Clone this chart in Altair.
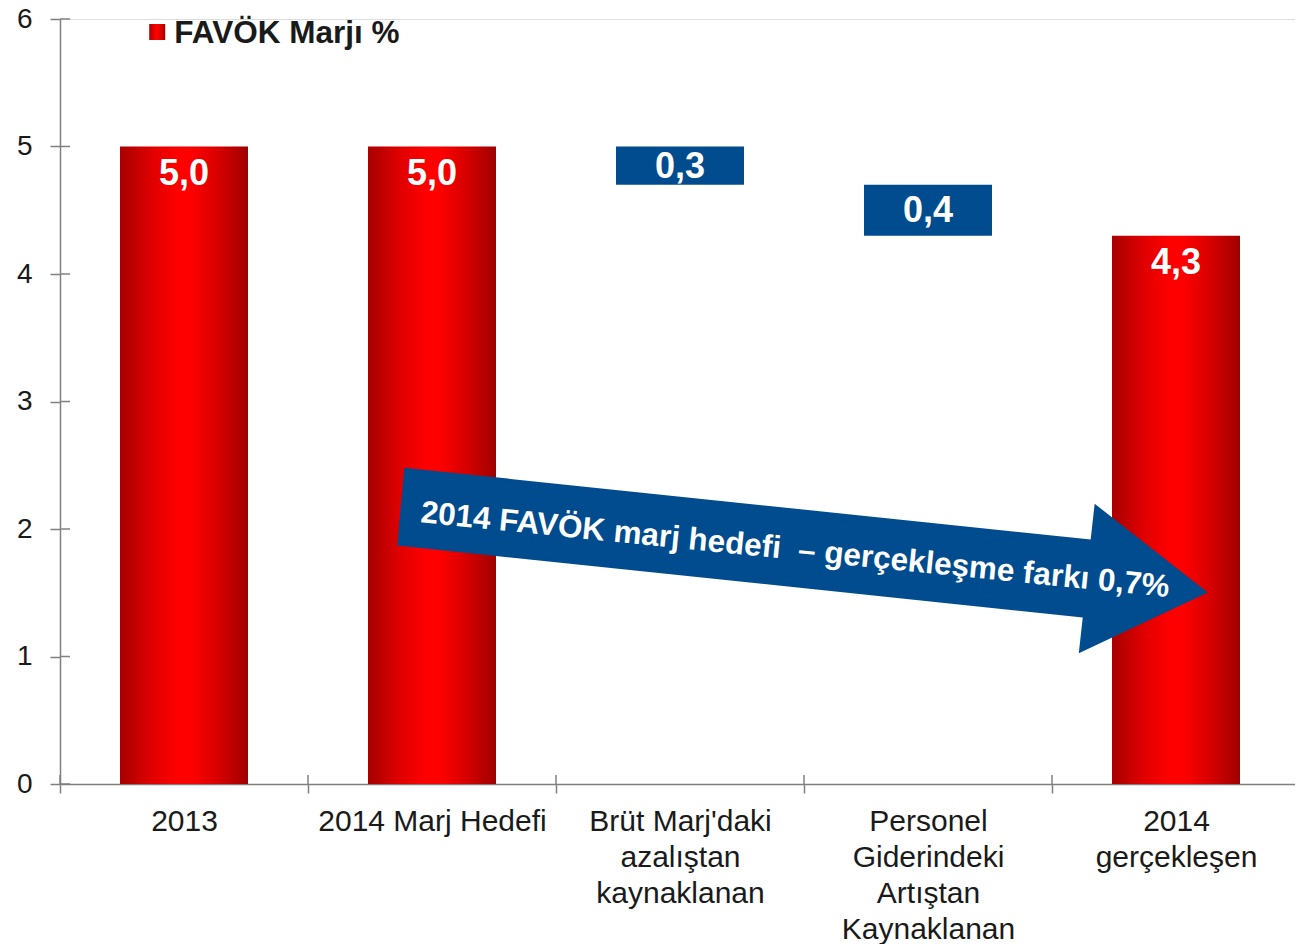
import altair as alt
import pandas as pd

# ---- data ----
categories = ["2013", "2014 Marj Hedefi", "Brüt Marj'daki\nazalıştan\nkaynaklanan",
              "Personel\nGiderindeki\nArtıştan\nKaynaklanan", "2014\ngerçekleşen"]
bar_start = [0.0, 0.0, 4.7, 4.3, 0.0]
bar_end = [5.0, 5.0, 5.0, 4.7, 4.3]
bar_labels = ["5,0", "5,0", "0,3", "0,4", "4,3"]
bar_kind = ["total", "total", "change", "change", "total"]

legend_label = ["FAVÖK Marjı %"]
legend_x = [0.392]
legend_y = [5.898]

# arrow outline (x in category units from the left edge, y in % units)
arrow_x = [1.388, 4.156, 4.172, 4.628, 4.108, 4.124, 1.360]
arrow_y = [2.480, 1.917, 2.198, 1.502, 1.025, 1.306, 1.870]
arrow_text = ["2014 FAVÖK marj hedefi \u00a0– gerçekleşme farkı 0,7%"]
arrow_text_x = [2.964]
arrow_text_y = [1.83]

y_ticks = [0, 1, 2, 3, 4, 5, 6]
x_bounds = [0, 1, 2, 3, 4]

df = pd.DataFrame({"cat": categories, "start": bar_start, "end": bar_end,
                   "label": bar_labels, "kind": bar_kind})
arrow_df = pd.DataFrame({"i": list(range(len(arrow_x))), "x": arrow_x, "y": arrow_y})
atext_df = pd.DataFrame({"t": arrow_text, "x": arrow_text_x, "y": arrow_text_y})
leg_df = pd.DataFrame({"t": legend_label, "x": legend_x, "y": legend_y})
ytick_df = pd.DataFrame({"v": y_ticks})
xb_df = pd.DataFrame({"v": x_bounds})

FONT = "Liberation Sans"
BLUE = "#004c8e"
GRAY = "#808080"
W, H = 1235, 765
XR = 1240  # full range of the 5 category bands (a few px beyond the right edge)

red_grad = alt.LinearGradient(
    gradient="linear", x1=0, x2=1, y1=0, y2=0,
    stops=[alt.GradientStop(color="#a80000", offset=0),
           alt.GradientStop(color="#e00000", offset=0.25),
           alt.GradientStop(color="#ff0000", offset=0.45),
           alt.GradientStop(color="#ff0000", offset=0.55),
           alt.GradientStop(color="#d40000", offset=0.78),
           alt.GradientStop(color="#a00000", offset=1)])

yscale = alt.Scale(domain=[0, 6], nice=False, zero=True)

x_band = alt.X("cat:N", sort=categories,
               scale=alt.Scale(paddingInner=0, paddingOuter=0, range=[0, XR]),
               axis=alt.Axis(title=None, labelAngle=0,
                             labelExpr="split(datum.label, '\\n')",
                             tickBand="extent", labelFontSize=30, labelLineHeight=36,
                             labelPadding=13, labelColor="#1a1a1a", labelFont=FONT,
                             domainColor=GRAY, tickColor=GRAY, tickSize=9,
                             domainWidth=1.5, tickWidth=1.5, labelLimit=400,
                             labelOverlap=False))
y_axis = alt.Axis(title=None, values=y_ticks, format="d", grid=False, labelFontSize=28,
                  labelFont=FONT, labelColor="#1a1a1a", labelPadding=18,
                  domainColor=GRAY, tickColor=GRAY, tickSize=10,
                  domainWidth=1.5, tickWidth=1.5)

base = alt.Chart(df)

red_bars = base.transform_filter(alt.datum.kind == "total").mark_bar(
    color=red_grad, size=128).encode(
    x=x_band, y=alt.Y("start:Q", scale=yscale, axis=y_axis), y2="end:Q")

blue_bars = base.transform_filter(alt.datum.kind == "change").mark_bar(
    color=BLUE, size=128).encode(
    x=alt.X("cat:N", sort=categories), y=alt.Y("start:Q", scale=yscale), y2="end:Q")

red_labels = base.transform_filter(alt.datum.kind == "total").mark_text(
    color="white", font=FONT, fontWeight="bold", fontSize=36,
    baseline="middle", dy=27).encode(
    x=alt.X("cat:N", sort=categories), y=alt.Y("end:Q", scale=yscale), text="label:N")

blue_labels = base.transform_filter(alt.datum.kind == "change").transform_calculate(
    mid="(datum.start + datum.end) / 2").mark_text(
    color="white", font=FONT, fontWeight="bold", fontSize=36,
    baseline="middle", dy=1).encode(
    x=alt.X("cat:N", sort=categories), y=alt.Y("mid:Q", scale=yscale), text="label:N")

bars_layer = alt.layer(red_bars, blue_bars, red_labels, blue_labels)

xq = alt.Scale(domain=[0, 5], nice=False, zero=False, range=[0, XR])

arrow = alt.Chart(arrow_df).mark_line(filled=True, color=BLUE, strokeWidth=0).encode(
    x=alt.X("x:Q", scale=xq, axis=None),
    y=alt.Y("y:Q", scale=yscale),
    order="i:Q")

arrow_label = alt.Chart(atext_df).mark_text(
    color="white", font=FONT, fontWeight="bold", fontSize=31.5, angle=5.7,
    align="center", baseline="middle").encode(
    x=alt.X("x:Q", scale=xq, axis=None), y=alt.Y("y:Q", scale=yscale), text="t:N")

leg_sq = alt.Chart(leg_df).mark_square(size=256, color=red_grad, opacity=1).encode(
    x=alt.X("x:Q", scale=xq, axis=None), y=alt.Y("y:Q", scale=yscale))
leg_tx = alt.Chart(leg_df).mark_text(
    color="#1a1a1a", font=FONT, fontWeight="bold", fontSize=31.5,
    align="left", baseline="middle", dx=17, dy=2).encode(
    x=alt.X("x:Q", scale=xq, axis=None), y=alt.Y("y:Q", scale=yscale), text="t:N")

# inner halves of the crossing tick marks
ytick_in = alt.Chart(ytick_df).mark_rule(color=GRAY, strokeWidth=1.5).encode(
    y=alt.Y("v:Q", scale=yscale), x=alt.value(0), x2=alt.value(10))
xtick_in = alt.Chart(xb_df).mark_rule(color=GRAY, strokeWidth=1.5).encode(
    x=alt.X("v:Q", scale=xq, axis=None), y=alt.value(H - 9), y2=alt.value(H))

annot_layer = alt.layer(ytick_in, xtick_in, arrow, arrow_label, leg_sq, leg_tx)

chart = alt.layer(bars_layer, annot_layer).resolve_scale(x="independent").properties(
    width=W, height=H,
    autosize=alt.AutoSizeParams(type="none"),
    padding={"left": 52, "top": 11, "right": 0, "bottom": 160},
).configure_view(stroke=None).configure(background="white")

chart.save("out.html", embed_options={"renderer": "svg", "actions": False})
